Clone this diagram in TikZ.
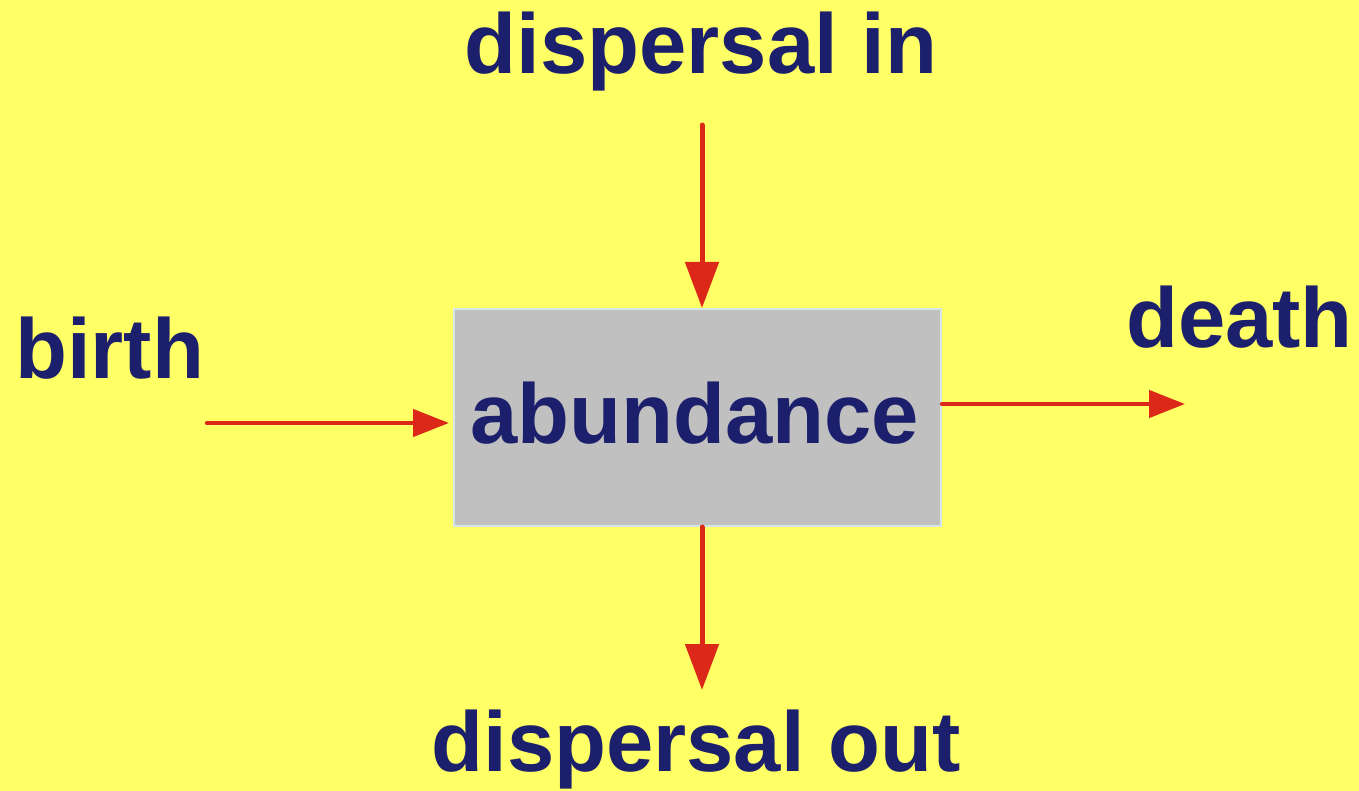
\documentclass[tikz,border=0pt]{standalone}
\usepackage{fontspec}
\setmainfont{Liberation Sans}
\usetikzlibrary{arrows.meta}
\definecolor{bgyellow}{RGB}{255,255,102}
\definecolor{navytext}{RGB}{28,31,108}
\definecolor{arrowred}{RGB}{220,40,25}
\definecolor{boxgray}{RGB}{192,192,192}
\definecolor{boxedge}{RGB}{214,230,230}
\tikzset{
  lbl/.style={inner sep=0pt, text=navytext, font=\bfseries\fontsize{85}{90}\selectfont},
  flowv/.style={draw=arrowred, line width=5pt, line cap=round, -{Triangle[length=46pt,width=33pt]}},
  flowh/.style={draw=arrowred, line width=4.5pt, line cap=round, -{Triangle[length=36pt,width=27pt]}},
  stockbox/.style={draw=boxedge, fill=boxgray, line width=2pt, minimum width=487pt, minimum height=217pt, inner sep=0pt}
}
\begin{document}
\begin{tikzpicture}[x=1pt,y=-1pt]
\fill[bgyellow] (0,0) rectangle (1359,791);
\useasboundingbox (0,0) rectangle (1359,791);
\node[stockbox] (box) at (697.5,417.5) {};
\node[lbl, anchor=base] (abund) at (694.5,443) {abundance};
\node[lbl, anchor=base] (din) at (701,74) {dispersal in};
\node[lbl, anchor=base west] (birth) at (15,378) {birth};
\node[lbl, anchor=base west] (death) at (1126,347) {death};
\node[lbl, anchor=base] (dout) at (696,771) {dispersal out};
\coordinate (dinstart) at (702,125);
\coordinate (bstart) at (207,423);
\coordinate (dthend) at (1185,404);
\coordinate (doutend) at (702,690);
\draw[flowv] (dinstart) -- (dinstart |- box.north);
\draw[flowh, shorten >=4pt] (bstart) -- (bstart -| box.west);
\draw[flowh] (dthend -| box.east) -- (dthend);
\draw[flowv] (doutend |- box.south) -- (doutend);
\end{tikzpicture}
\end{document}
